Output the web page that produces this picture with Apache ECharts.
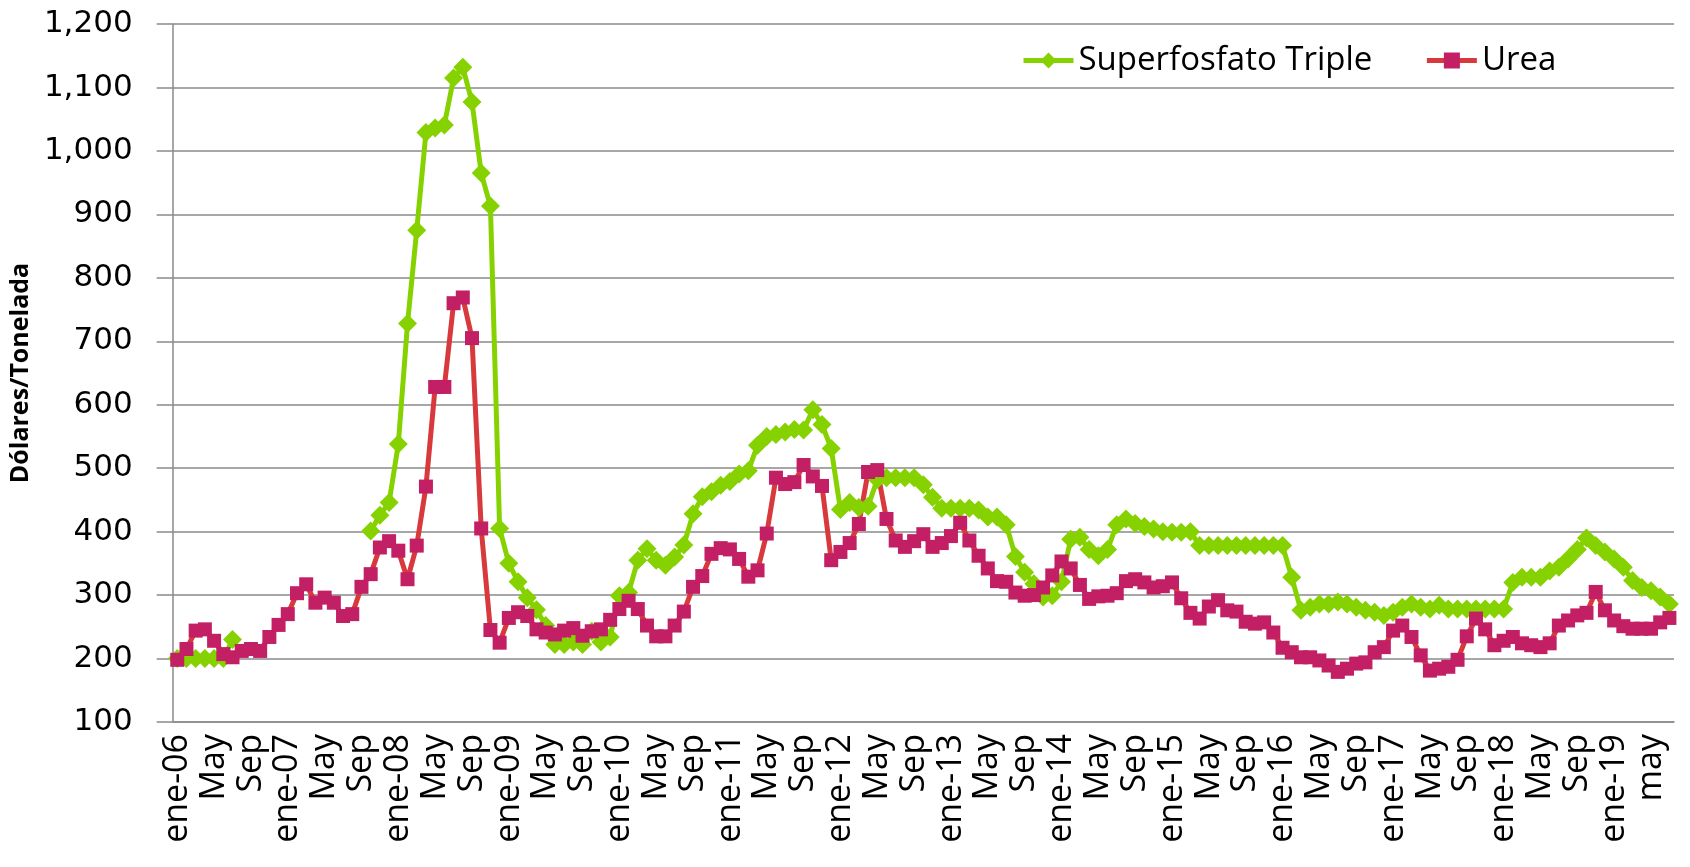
<!DOCTYPE html>
<html lang="es">
<head>
<meta charset="UTF-8">
<title>Superfosfato Triple y Urea</title>
<script src="https://cdn.jsdelivr.net/npm/echarts@6/dist/echarts.min.js"></script>
<style>
  html, body { margin: 0; width: 100%; height: 100%; background: #fff; }
  #chart { width: 1690px; height: 867px; }
</style>
</head>
<body>
<div id="chart"></div>
<script>
// meses ene-06 .. jul-19
var meses = ['ene', 'feb', 'mar', 'abr', 'may', 'jun', 'jul', 'ago', 'sep', 'oct', 'nov', 'dic'];
var categorias = [];
for (var k = 0; k < 163; k++) {
  var yy = 6 + Math.floor(k / 12);
  categorias.push(meses[k % 12] + '-' + (yy < 10 ? '0' + yy : yy));
}

// etiquetas cada 4 meses
var etiquetas = [
  'ene-06', 'May', 'Sep', 'ene-07', 'May', 'Sep', 'ene-08', 'May', 'Sep',
  'ene-09', 'May', 'Sep', 'ene-10', 'May', 'Sep', 'ene-11', 'May', 'Sep',
  'ene-12', 'May', 'Sep', 'ene-13', 'May', 'Sep', 'ene-14', 'May', 'Sep',
  'ene-15', 'May', 'Sep', 'ene-16', 'May', 'Sep', 'ene-17', 'May', 'Sep',
  'ene-18', 'May', 'Sep', 'ene-19', 'may'
];

var superfosfato = [
  200, 200, 200, 200, 200, 200, 230, null, null, null, null, null,
  null, null, null, null, null, null, null, null, null, 401, 426, 446,
  538, 728, 875, 1029, 1036, 1041, 1115, 1132, 1077, 965, 913, 405,
  350, 321, 296, 277, 252, 222, 222, 226, 222, 243, 226, 234,
  299, 304, 355, 373, 355, 347, 360, 379, 428, 455, 463, 473,
  479, 491, 496, 536, 550, 553, 557, 561, 560, 592, 569, 531,
  435, 446, 438, 440, 482, 485, 485, 485, 485, 474, 454, 437,
  437, 437, 437, 434, 423, 423, 411, 361, 336, 318, 297, 299,
  321, 388, 391, 372, 362, 372, 411, 420, 413, 408, 404, 400,
  399, 399, 400, 378, 378, 378, 378, 378, 378, 378, 378, 378,
  378, 328, 276, 281, 286, 286, 289, 286, 281, 276, 273, 268,
  273, 281, 286, 281, 278, 284, 278, 278, 278, 278, 278, 278,
  278, 320, 328, 328, 328, 338, 344, 357, 372, 390, 378, 368,
  357, 344, 323, 312, 307, 297, 286
];

var urea = [
  198, 215, 244, 246, 228, 207, 202, 212, 215, 212, 234, 253,
  270, 303, 317, 288, 296, 288, 267, 270, 313, 333, 375, 385,
  370, 325, 378, 471, 628, 628, 760, 769, 705, 405, 245, 225,
  264, 273, 267, 246, 241, 238, 244, 248, 236, 243, 246, 261,
  278, 291, 278, 252, 235, 235, 252, 274, 313, 330, 365, 374,
  372, 357, 329, 339, 397, 485, 475, 478, 505, 487, 472, 355,
  368, 382, 412, 494, 497, 420, 386, 376, 385, 396, 376, 382,
  393, 414, 386, 362, 342, 322, 321, 304, 299, 300, 312, 331,
  353, 342, 316, 294, 298, 299, 303, 322, 325, 320, 312, 314,
  320, 295, 272, 263, 282, 292, 276, 274, 258, 255, 257, 241,
  217, 210, 202, 202, 197, 189, 179, 184, 192, 194, 210, 218,
  244, 252, 234, 205, 181, 184, 187, 198, 235, 263, 246, 221,
  228, 234, 224, 221, 218, 224, 252, 260, 268, 272, 305, 276,
  260, 251, 247, 247, 247, 257, 264
];

var chart = echarts.init(document.getElementById('chart'));
var option = {
  animation: false,
  backgroundColor: '#ffffff',
  grid: { left: 168, right: 16, top: 24, bottom: 145 },
  legend: {
    left: 1016,
    top: 39,
    itemWidth: 50,
    itemHeight: 20,
    itemGap: 52,
    lineStyle: { width: 5 },
    textStyle: { fontFamily: 'Open Sans', fontSize: 33, color: '#000' },
    data: ['Superfosfato Triple', 'Urea']
  },
  xAxis: {
    type: 'category',
    data: categorias,
    boundaryGap: true,
    axisLine: { lineStyle: { color: '#8a8a8a', width: 1.5 } },
    axisTick: { interval: 0, length: 13, lineStyle: { color: '#8a8a8a', width: 1.5 } },
    axisLabel: {
      interval: 3,
      rotate: 90,
      margin: 12,
      color: '#000',
      fontFamily: 'Open Sans',
      fontSize: 34,
      formatter: function (v, i) { return etiquetas[Math.round(i / 4)]; }
    },
    splitLine: { show: false }
  },
  yAxis: {
    type: 'value',
    min: 100,
    max: 1200,
    interval: 100,
    name: 'Dólares/Tonelada',
    nameLocation: 'middle',
    nameGap: 137,
    nameTextStyle: { fontFamily: 'Open Sans', fontWeight: 'bold', fontSize: 25, color: '#000' },
    axisLine: { show: true, lineStyle: { color: '#8a8a8a', width: 1.5 } },
    axisTick: { show: true, length: 16, lineStyle: { color: '#8a8a8a', width: 1.5 } },
    axisLabel: {
      margin: 40,
      color: '#000',
      fontFamily: 'DejaVu Sans',
      fontSize: 31,
      formatter: function (v) { return v.toLocaleString('en-US'); }
    },
    splitLine: { lineStyle: { color: '#8a8a8a', width: 1.5 } }
  },
  series: [
    {
      name: 'Superfosfato Triple',
      type: 'line',
      data: superfosfato,
      symbol: 'diamond',
      symbolSize: 19,
      showAllSymbol: true,
      connectNulls: false,
      itemStyle: { color: '#86d200' },
      lineStyle: { color: '#86d200', width: 5 }
    },
    {
      name: 'Urea',
      type: 'line',
      data: urea,
      symbol: 'rect',
      symbolSize: 14,
      showAllSymbol: true,
      itemStyle: { color: '#c21f64' },
      lineStyle: { color: '#d8393c', width: 5 }
    }
  ]
};
chart.setOption(option);
</script>
</body>
</html>
